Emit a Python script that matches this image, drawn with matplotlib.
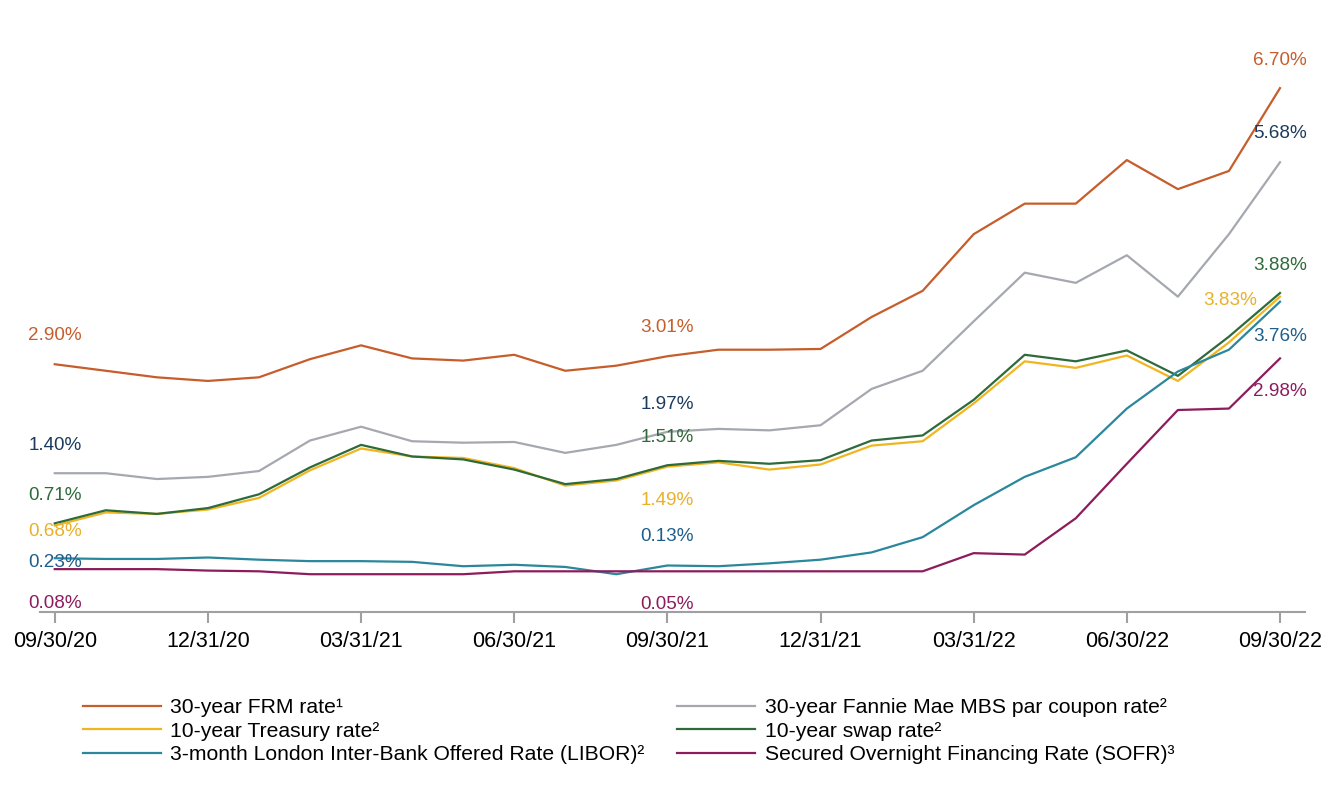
import numpy as np
import matplotlib
matplotlib.use('Agg')
import matplotlib.pyplot as plt

plt.rcParams['font.family'] = ['Liberation Sans', 'DejaVu Sans']

dates = ['09/30/20', '10/31/20', '11/30/20', '12/31/20', '01/31/21', '02/28/21', '03/31/21',
         '04/30/21', '05/31/21', '06/30/21', '07/31/21', '08/31/21', '09/30/21', '10/31/21',
         '11/30/21', '12/31/21', '01/31/22', '02/28/22', '03/31/22', '04/30/22', '05/31/22',
         '06/30/22', '07/31/22', '08/31/22', '09/30/22']

frm = [2.90, 2.81, 2.72, 2.67, 2.72, 2.97, 3.16, 2.98, 2.95, 3.03, 2.81, 2.88, 3.01,
       3.10, 3.10, 3.11, 3.55, 3.91, 4.69, 5.11, 5.11, 5.71, 5.31, 5.56, 6.70]
mbs = [1.40, 1.40, 1.32, 1.35, 1.43, 1.85, 2.04, 1.84, 1.82, 1.83, 1.68, 1.79, 1.97,
       2.01, 1.99, 2.06, 2.56, 2.81, 3.49, 4.16, 4.02, 4.40, 3.83, 4.69, 5.68]
treasury = [0.68, 0.86, 0.84, 0.90, 1.06, 1.44, 1.74, 1.63, 1.61, 1.47, 1.23, 1.30, 1.49,
            1.55, 1.45, 1.52, 1.78, 1.84, 2.36, 2.94, 2.85, 3.02, 2.67, 3.20, 3.83]
swap = [0.71, 0.89, 0.84, 0.92, 1.11, 1.48, 1.79, 1.63, 1.59, 1.45, 1.25, 1.32, 1.51,
        1.57, 1.53, 1.58, 1.85, 1.92, 2.41, 3.03, 2.94, 3.09, 2.74, 3.28, 3.88]
libor = [0.23, 0.22, 0.22, 0.24, 0.21, 0.19, 0.19, 0.18, 0.12, 0.14, 0.11, 0.01, 0.13,
         0.12, 0.16, 0.21, 0.31, 0.52, 0.96, 1.35, 1.62, 2.29, 2.80, 3.10, 3.76]
sofr = [0.08, 0.08, 0.08, 0.06, 0.05, 0.01, 0.01, 0.01, 0.01, 0.05, 0.05, 0.05, 0.05,
        0.05, 0.05, 0.05, 0.05, 0.05, 0.30, 0.28, 0.78, 1.53, 2.27, 2.29, 2.98]

names = ['30-year FRM rate\u00b9', '30-year Fannie Mae MBS par coupon rate\u00b2',
         '10-year Treasury rate\u00b2', '10-year swap rate\u00b2',
         '3-month London Inter-Bank Offered Rate (LIBOR)\u00b2',
         'Secured Overnight Financing Rate (SOFR)\u00b3']
series = [frm, mbs, treasury, swap, libor, sofr]
line_colors = ['#C65D2B', '#A6A8B0', '#F1B520', '#2E6A3A', '#2A879C', '#8C1C5C']
label_colors = ['#C65D2B', '#1C3A5E', '#E9B029', '#2E6A3A', '#1F5E8A', '#8C1C5C']

# label offsets in points (above/below the point) at start, middle, end
offsets = {
    0: [(0, 21), (0, 21), (0, 20)],
    1: [(0, 20), (0, 20), (0, 21)],
    2: [(0, -4), (0, -24.5), (-36, -3)],
    3: [(0, 20), (0, 20), (0, 20)],
    4: [(0, -3), (0, 21), (0, -25)],
    5: [(0, -24.5), (0, -24), (0, -24)],
}

fig = plt.figure(figsize=(13.36, 8), dpi=100)
ax = fig.add_axes([0.0299, 0.235, 0.9469, 0.7275])
x = np.arange(len(dates))

for i, (vals, nm) in enumerate(zip(series, names)):
    ax.plot(x, vals, color=line_colors[i], lw=1.6, label=nm)
    for j, idx in enumerate([0, 12, 24]):
        dx, dy = offsets[i][j]
        ax.annotate(f'{vals[idx]:.2f}%', (x[idx], vals[idx]), xytext=(dx, dy),
                    textcoords='offset points', ha='center', va='center',
                    color=label_colors[i], fontsize=13.6)

ax.set_xlim(-0.29, 24.49)
ax.set_ylim(-0.51, 7.5)
for s in ['top', 'right', 'left']:
    ax.spines[s].set_visible(False)
ax.spines['bottom'].set_color('#A0A0A0')
ax.spines['bottom'].set_linewidth(1.5)
ax.set_yticks([])
ax.set_xticks(x[::3])
ax.set_xticklabels(dates[::3], fontsize=15.5)
ax.tick_params(axis='x', length=8, width=1.5, color='#A0A0A0', pad=6)

# reorder so legend reads row-wise with 2 columns
order = [0, 2, 4, 1, 3, 5]
h, l = ax.get_legend_handles_labels()
fig.legend([h[k] for k in order], [l[k] for k in order], ncol=2,
           loc='upper left', bbox_to_anchor=(0.0555, 0.138), frameon=False,
           fontsize=15.2, handlelength=3.7, handletextpad=0.45,
           columnspacing=1.55, labelspacing=0.22, borderaxespad=0)

fig.savefig('out.png', dpi=100)
